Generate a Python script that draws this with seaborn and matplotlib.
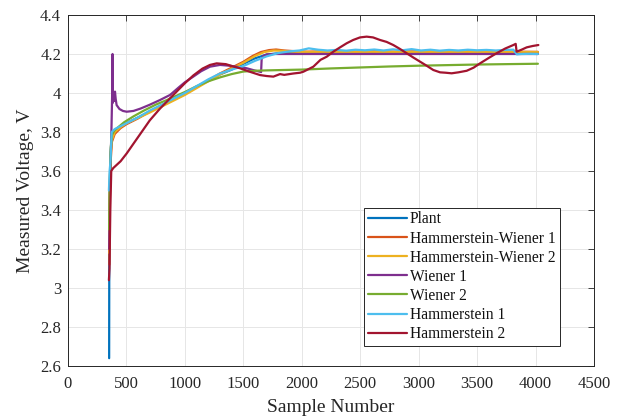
import numpy as np
import pandas as pd
import matplotlib
matplotlib.use("Agg")
import matplotlib.pyplot as plt
from matplotlib.ticker import FuncFormatter, MultipleLocator
import seaborn as sns

# ---- model names and colours ----
models = ["Plant", "Hammerstein-Wiener 1", "Hammerstein-Wiener 2",
          "Wiener 1", "Wiener 2", "Hammerstein 1", "Hammerstein 2"]
colors = ["#0072BD", "#D95319", "#EDB120", "#7E2F8E", "#77AC30", "#4DBEEE", "#A2142F"]

# ---- measured / simulated responses (sample number, voltage) ----
plant_x = [352, 353, 356, 362, 372, 390, 430, 500, 600, 700, 800, 900, 1000, 1100, 1200,
           1300, 1400, 1500, 1600, 1700, 1800, 1900, 2000, 2200, 2400, 2600, 2800, 3000,
           3200, 3400, 3600, 3800, 4020]
plant_y = [2.64, 3.10, 3.45, 3.65, 3.77, 3.80, 3.82, 3.845, 3.875, 3.905, 3.935, 3.965, 3.995,
           4.03, 4.065, 4.095, 4.12, 4.15, 4.178, 4.197, 4.204, 4.206, 4.206, 4.205, 4.206,
           4.205, 4.206, 4.205, 4.206, 4.205, 4.206, 4.205, 4.205]

hw1_x = [354, 358, 366, 376, 400, 450, 500, 600, 700, 800, 900, 1000, 1100, 1200, 1300,
         1400, 1500, 1580, 1650, 1720, 1780, 1850, 1950, 2050, 2200, 2400, 2600, 2800,
         3000, 3200, 3400, 3600, 3800, 4020]
hw1_y = [3.12, 3.45, 3.66, 3.75, 3.79, 3.82, 3.84, 3.87, 3.905, 3.935, 3.965, 3.995, 4.03,
         4.065, 4.10, 4.13, 4.16, 4.19, 4.21, 4.22, 4.223, 4.218, 4.214, 4.212, 4.214,
         4.212, 4.214, 4.212, 4.214, 4.212, 4.214, 4.212, 4.212, 4.211]

hw2_x = [352, 356, 364, 376, 400, 450, 500, 600, 700, 800, 900, 1000, 1100, 1200, 1300,
         1400, 1500, 1600, 1680, 1760, 1840, 1920, 2000, 2200, 2400, 2600, 2800, 3000,
         3200, 3400, 3600, 3800, 4020]
hw2_y = [3.18, 3.50, 3.68, 3.76, 3.80, 3.825, 3.845, 3.872, 3.90, 3.93, 3.96, 3.99, 4.025,
         4.06, 4.095, 4.125, 4.155, 4.19, 4.21, 4.218, 4.216, 4.212, 4.21, 4.211, 4.21,
         4.211, 4.21, 4.211, 4.21, 4.211, 4.21, 4.21, 4.21]

w1_x = [352, 360, 372, 378, 381, 384, 390, 396, 402, 408, 416, 440, 470, 502, 560, 620,
        700, 787, 873, 950, 1000, 1072, 1140, 1215, 1300, 1380, 1450, 1528, 1600, 1643,
        1652, 1657, 1670, 1700, 1760, 1850, 2000, 2500, 3000, 3500, 4020]
w1_y = [3.20, 3.55, 3.82, 4.00, 4.20, 3.95, 3.98, 3.96, 4.007, 3.97, 3.938, 3.918, 3.908,
        3.904, 3.908, 3.92, 3.94, 3.964, 3.99, 4.03, 4.055, 4.084, 4.112, 4.135, 4.144,
        4.14, 4.134, 4.127, 4.115, 4.109, 4.107, 4.178, 4.19, 4.198, 4.2, 4.2, 4.2, 4.2,
        4.2, 4.2, 4.2]

w2_x = [352, 358, 366, 376, 400, 480, 560, 650, 750, 850, 1000, 1100, 1200, 1300, 1400,
        1500, 1600, 1700, 1850, 2000, 2250, 2500, 2750, 3000, 3250, 3500, 3750, 4020]
w2_y = [3.30, 3.55, 3.72, 3.785, 3.81, 3.85, 3.88, 3.91, 3.94, 3.965, 4.005, 4.035, 4.06,
        4.08, 4.097, 4.11, 4.114, 4.116, 4.118, 4.12, 4.126, 4.131, 4.136, 4.14, 4.143,
        4.146, 4.148, 4.15]

h1_x = [350, 356, 362, 368, 374, 400, 450, 500, 600, 700, 800, 900, 1000, 1100, 1200,
        1300, 1400, 1500, 1600, 1700, 1800, 1900, 1980, 2060, 2140, 2220, 2300, 2380,
        2460, 2540, 2620, 2700, 2780, 2860, 2940, 3020, 3100, 3180, 3260, 3340, 3420,
        3500, 3580, 3660, 3740, 3810, 3840, 3880, 3950, 4020]
h1_y = [3.50, 3.60, 3.64, 3.72, 3.80, 3.815, 3.83, 3.845, 3.875, 3.91, 3.94, 3.97, 4.00,
        4.035, 4.07, 4.10, 4.12, 4.138, 4.165, 4.188, 4.205, 4.214, 4.218, 4.229, 4.222,
        4.218, 4.221, 4.217, 4.222, 4.219, 4.223, 4.218, 4.224, 4.219, 4.225, 4.218,
        4.222, 4.217, 4.221, 4.218, 4.222, 4.219, 4.221, 4.218, 4.221, 4.222, 4.198,
        4.20, 4.201, 4.20]

h2_x = [350, 355, 362, 370, 387, 450, 502, 560, 630, 700, 787, 901, 1000, 1072, 1150,
        1215, 1272, 1350, 1420, 1471, 1550, 1643, 1700, 1757, 1814, 1850, 1928, 1985,
        2013, 2099, 2160, 2213, 2270, 2330, 2384, 2440, 2498, 2555, 2610, 2669, 2726,
        2783, 2840, 2897, 2954, 3011, 3068, 3125, 3183, 3230, 3282, 3340, 3411, 3470,
        3525, 3600, 3667, 3740, 3810, 3830, 3838, 3880, 3924, 3975, 4024]
h2_y = [3.04, 3.10, 3.40, 3.60, 3.615, 3.65, 3.69, 3.74, 3.80, 3.86, 3.92, 3.99, 4.05,
        4.09, 4.125, 4.144, 4.152, 4.148, 4.135, 4.127, 4.11, 4.092, 4.087, 4.084, 4.097,
        4.093, 4.10, 4.104, 4.109, 4.135, 4.17, 4.186, 4.212, 4.235, 4.255, 4.272, 4.285,
        4.289, 4.285, 4.272, 4.262, 4.246, 4.226, 4.204, 4.182, 4.161, 4.14, 4.118, 4.106,
        4.104, 4.101, 4.106, 4.114, 4.13, 4.152, 4.18, 4.204, 4.228, 4.246, 4.252, 4.212,
        4.222, 4.234, 4.241, 4.246]

series = [(plant_x, plant_y), (hw1_x, hw1_y), (hw2_x, hw2_y), (w1_x, w1_y),
          (w2_x, w2_y), (h1_x, h1_y), (h2_x, h2_y)]

frames = []
for name, (xs, ys) in zip(models, series):
    frames.append(pd.DataFrame({"sample": xs, "voltage": ys, "model": name}))
df = pd.concat(frames, ignore_index=True)

# ---- style ----
sns.set_style("white")
plt.rcParams["font.family"] = ["Liberation Serif", "DejaVu Serif"]
axis_gray = "#262626"

fig = plt.figure(figsize=(6.21, 4.19), dpi=100)
ax = fig.add_axes([68 / 621, 1 - 366 / 419, 526 / 621, 351 / 419])

sns.lineplot(data=df, x="sample", y="voltage", hue="model", hue_order=models,
             palette=colors, sort=False, estimator=None, linewidth=1.6, ax=ax)

ax.set_xlim(0, 4500)
ax.set_ylim(2.6, 4.4)
ax.xaxis.set_major_locator(MultipleLocator(500))
ax.yaxis.set_major_locator(MultipleLocator(0.2))
ax.yaxis.set_major_formatter(FuncFormatter(lambda v, p: f"{v:g}"))

ax.grid(True, color="#e6e6e6", linewidth=0.7)
ax.set_axisbelow(True)
for s in ax.spines.values():
    s.set_visible(True)
    s.set_color(axis_gray)
    s.set_linewidth(0.7)
ax.tick_params(direction="in", length=4, width=0.6, top=True, right=True,
               labelsize=12, colors=axis_gray, pad=5)
ax.tick_params(axis="x", pad=7)
ax.tick_params(axis="both", labelcolor=axis_gray)

ax.set_xlabel("Sample Number", fontsize=14, color=axis_gray, labelpad=5)
ax.set_ylabel("Measured Voltage, V", fontsize=14, color=axis_gray, labelpad=4)

handles, labels = ax.get_legend_handles_labels()
leg = ax.legend(handles, labels, loc="lower left", bbox_to_anchor=(0.5627, 0.057),
                fontsize=11.2, frameon=True, fancybox=False, borderpad=0.25,
                labelspacing=0.2, handlelength=2.5, handletextpad=0.2,
                borderaxespad=0.0)
leg.get_frame().set_edgecolor(axis_gray)
leg.get_frame().set_linewidth(0.7)
leg.get_frame().set_facecolor("white")
leg.get_frame().set_alpha(1.0)
for line in leg.get_lines():
    line.set_linewidth(1.6)
for t in leg.get_texts():
    t.set_color("#111111")

fig.savefig("out.png", dpi=100)
